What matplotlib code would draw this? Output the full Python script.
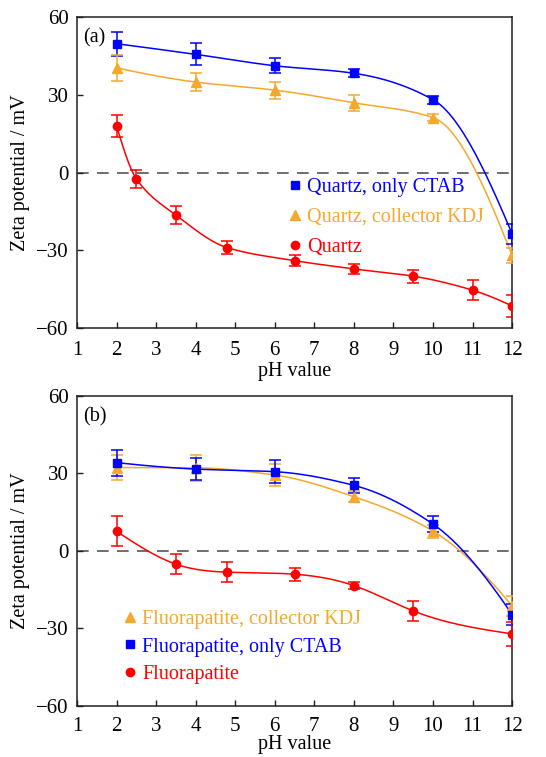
import numpy as np
import matplotlib
matplotlib.use('Agg')
import matplotlib.pyplot as plt
from matplotlib.lines import Line2D

plt.rcParams['font.family'] = ['Liberation Serif', 'DejaVu Serif']

# colours
BLUE = '#0000ff'
ORANGE = '#f5a82e'
RED = '#ff0000'

# (a) quartz
qa_ph = [2, 4, 6, 8, 10, 12]
qa_ctab = [49.7, 45.6, 41.2, 38.3, 28.1, -23.7]
qa_ctab_err = [4.7, 4.2, 2.8, 1.5, 1.6, 3.7]
qa_kdj = [40.4, 34.9, 31.8, 26.9, 21.2, -32.0]
qa_kdj_err = [5.0, 3.6, 3.3, 3.0, 1.5, 2.8]
qa_ph_bare = [2, 2.5, 3.5, 4.8, 6.5, 8, 9.5, 11, 12]
qa_bare = [17.9, -2.4, -16.4, -29.0, -34.0, -37.2, -40.0, -45.4, -51.5]
qa_bare_err = [4.2, 3.5, 3.5, 2.4, 2.0, 2.0, 2.5, 3.8, 4.3]

# (b) fluorapatite
fa_ph = [2, 4, 6, 8, 10, 12]
fa_ctab = [34.2, 31.7, 30.7, 25.4, 10.4, -24.6]
fa_ctab_err = [5.0, 4.4, 4.5, 3.0, 3.0, 4.0]
fa_kdj = [32.3, 32.2, 29.4, 21.0, 7.7, -21.3]
fa_kdj_err = [5.0, 5.0, 4.4, 2.2, 2.5, 4.0]
fa_ph_bare = [2, 3.5, 4.8, 6.5, 8, 9.5, 12]
fa_bare = [7.6, -5.1, -8.2, -9.0, -13.4, -23.2, -32.1]
fa_bare_err = [5.8, 3.9, 3.9, 2.5, 1.3, 4.0, 4.5]


def spline(x, y, n=300):
    """natural cubic spline through the points"""
    x = np.asarray(x, float)
    y = np.asarray(y, float)
    h = np.diff(x)
    m = len(x)
    M = np.zeros(m)
    A = np.zeros((m - 2, m - 2))
    r = np.zeros(m - 2)
    for i in range(m - 2):
        A[i, i] = 2 * (h[i] + h[i + 1])
        if i < m - 3:
            A[i, i + 1] = h[i + 1]
            A[i + 1, i] = h[i + 1]
        r[i] = 6 * ((y[i + 2] - y[i + 1]) / h[i + 1] - (y[i + 1] - y[i]) / h[i])
    M[1:-1] = np.linalg.solve(A, r)
    xs = np.linspace(x[0], x[-1], n)
    j = np.clip(np.searchsorted(x, xs) - 1, 0, m - 2)
    hj = h[j]
    a = x[j + 1] - xs
    b = xs - x[j]
    ys = (M[j] * a ** 3 + M[j + 1] * b ** 3) / (6 * hj) \
        + (y[j] / hj - M[j] * hj / 6) * a + (y[j + 1] / hj - M[j + 1] * hj / 6) * b
    return xs, ys


def pchip(x, y, n=300):
    """monotone piecewise cubic through the points"""
    x = np.asarray(x, float)
    y = np.asarray(y, float)
    h = np.diff(x)
    d = np.diff(y) / h
    m = len(x)
    s = np.zeros(m)
    for k in range(1, m - 1):
        if d[k - 1] * d[k] > 0:
            w1 = 2 * h[k] + h[k - 1]
            w2 = h[k] + 2 * h[k - 1]
            s[k] = (w1 + w2) / (w1 / d[k - 1] + w2 / d[k])
    s[0] = ((2 * h[0] + h[1]) * d[0] - h[0] * d[1]) / (h[0] + h[1])
    if np.sign(s[0]) != np.sign(d[0]):
        s[0] = 0
    s[-1] = ((2 * h[-1] + h[-2]) * d[-1] - h[-1] * d[-2]) / (h[-1] + h[-2])
    if np.sign(s[-1]) != np.sign(d[-1]):
        s[-1] = 0
    xs = np.linspace(x[0], x[-1], n)
    j = np.clip(np.searchsorted(x, xs) - 1, 0, m - 2)
    t = (xs - x[j]) / h[j]
    ys = (2 * t ** 3 - 3 * t ** 2 + 1) * y[j] + (t ** 3 - 2 * t ** 2 + t) * h[j] * s[j] \
        + (-2 * t ** 3 + 3 * t ** 2) * y[j + 1] + (t ** 3 - t ** 2) * h[j] * s[j + 1]
    return xs, ys


def series(ax, x, y, err, color, marker, ms, fit=pchip):
    xs, ys = fit(x, y)
    ax.plot(xs, ys, color=color, lw=1.1, zorder=2)
    ax.errorbar(x, y, yerr=err, fmt=marker, color=color, ms=ms, elinewidth=1.1,
                capsize=4, capthick=1.1, zorder=3)


def style(ax, tag, xpad, labelpad):
    ax.set_xlim(1, 12)
    ax.set_ylim(-60, 60)
    ax.set_xticks(range(1, 13))
    ax.set_yticks([-60, -30, 0, 30, 60])
    ax.axhline(0, color='#555555', lw=1.2, ls=(0, (7, 5)), zorder=1)
    ax.tick_params(direction='in', labelsize=15, length=4, width=1, color='#231f20', pad=6)
    ax.tick_params(axis='x', pad=xpad)
    for s in ax.spines.values():
        s.set_color('#231f20')
        s.set_linewidth(1.1)
    ax.set_xlabel('pH value', fontsize=14.5, labelpad=labelpad)
    ax.set_ylabel('Zeta potential / mV', fontsize=14.5, labelpad=4)
    ax.text(0.015, 0.965, tag, transform=ax.transAxes, fontsize=14.5, va='top', ha='left')


def legend(ax, items, anchor, spacing):
    handles = [Line2D([], [], ls='none', marker=mk, color=c, ms=ms) for _, c, mk, ms in items]
    leg = ax.legend(handles, [t for t, _, _, _ in items], loc='upper left', bbox_to_anchor=anchor,
                    frameon=False, fontsize=14.5, handlelength=0.6, handletextpad=0.3,
                    labelspacing=spacing, borderaxespad=0, borderpad=0)
    for txt, (_, c, _, _) in zip(leg.get_texts(), items):
        txt.set_color(c)


fig = plt.figure(figsize=(5.46, 7.57), dpi=100)
ax1 = fig.add_axes([0.141, 0.5667, 0.797, 0.4108])
ax2 = fig.add_axes([0.141, 0.0674, 0.797, 0.4095])

series(ax1, qa_ph, qa_ctab, qa_ctab_err, BLUE, 's', 6)
series(ax1, qa_ph, qa_kdj, qa_kdj_err, ORANGE, '^', 6.5)
series(ax1, qa_ph_bare, qa_bare, qa_bare_err, RED, 'o', 6)
style(ax1, '(a)', 9, 2)
legend(ax1, [('Quartz, only CTAB', BLUE, 's', 6),
             ('Quartz, collector KDJ', ORANGE, '^', 6.5),
             ('Quartz', RED, 'o', 6)], (0.487, 0.484), 0.55)

series(ax2, fa_ph, fa_kdj, fa_kdj_err, ORANGE, '^', 6.5)
series(ax2, fa_ph, fa_ctab, fa_ctab_err, BLUE, 's', 6)
series(ax2, fa_ph_bare, fa_bare, fa_bare_err, RED, 'o', 6, fit=spline)
style(ax2, '(b)', 8, -1)
legend(ax2, [('Fluorapatite, collector KDJ', ORANGE, '^', 6.5),
             ('Fluorapatite, only CTAB', BLUE, 's', 6),
             ('Fluorapatite', RED, 'o', 6)], (0.108, 0.31), 0.42)

fig.savefig('out.png', dpi=100)
